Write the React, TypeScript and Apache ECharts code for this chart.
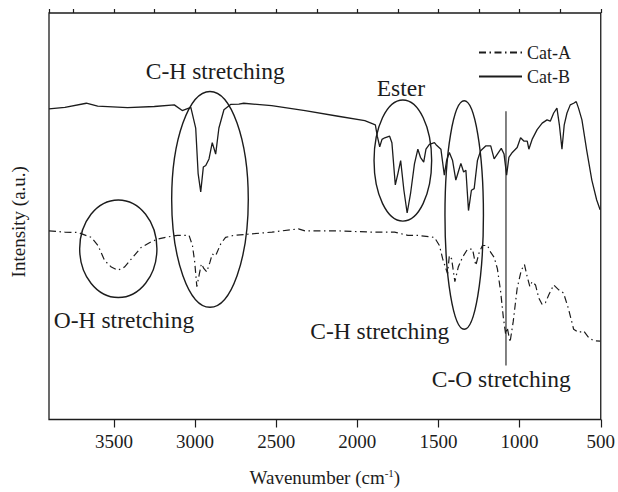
import React, { useEffect, useRef } from "react";
import * as echarts from "echarts";

const catAWavenumber = [3900, 3802, 3721, 3639, 3598, 3557, 3516, 3476, 3435, 3384, 3333, 3271, 3231, 3170, 3108, 3037, 3016, 3002, 2989, 2975, 2961, 2945, 2928, 2908, 2894, 2873, 2842, 2812, 2761, 2700, 2526, 2363, 2322, 2118, 1914, 1771, 1689, 1627, 1525, 1494, 1474, 1454, 1444, 1433, 1419, 1399, 1378, 1352, 1321, 1290, 1270, 1249, 1229, 1198, 1178, 1157, 1137, 1117, 1100, 1086, 1076, 1059, 1039, 1015, 990, 970, 953, 937, 923, 902, 882, 861, 841, 820, 790, 759, 729, 698, 667, 637, 606, 575, 545, 504];
const catAIntensity = [46.4, 46.1, 46.0, 44.8, 42.8, 39.1, 37.5, 36.7, 37.5, 39.9, 42.3, 43.7, 44.4, 44.9, 45.3, 45.3, 42.8, 38.7, 32.7, 35.5, 38.3, 37.1, 36.3, 38.7, 40.7, 40.3, 43.2, 44.8, 45.3, 45.5, 46.1, 46.9, 46.4, 46.4, 46.1, 46.1, 45.3, 45.3, 44.8, 42.8, 39.5, 37.1, 35.9, 40.3, 39.5, 33.9, 37.5, 39.9, 41.9, 41.9, 37.9, 41.1, 42.8, 42.8, 41.1, 39.9, 37.1, 31.5, 25.0, 21.0, 22.6, 19.0, 24.2, 32.3, 36.7, 38.1, 35.1, 32.7, 33.9, 33.1, 29.9, 28.3, 28.7, 30.7, 33.1, 31.9, 31.1, 27.1, 22.2, 21.4, 21.8, 20.2, 19.4, 19.3];

const catBWavenumber = [3900, 3802, 3670, 3600, 3416, 3251, 3128, 3079, 3026, 2996, 2981, 2965, 2949, 2934, 2914, 2894, 2873, 2853, 2822, 2781, 2730, 2700, 2528, 2322, 2118, 1954, 1889, 1877, 1862, 1848, 1831, 1801, 1787, 1766, 1750, 1733, 1713, 1693, 1672, 1648, 1627, 1611, 1591, 1577, 1556, 1525, 1515, 1485, 1464, 1450, 1433, 1413, 1393, 1378, 1362, 1345, 1331, 1315, 1297, 1280, 1260, 1240, 1209, 1178, 1157, 1137, 1113, 1096, 1080, 1066, 1045, 1015, 994, 974, 953, 943, 923, 892, 861, 831, 811, 790, 770, 755, 739, 725, 708, 688, 667, 651, 637, 616, 586, 555, 525, 504];
const catBIntensity = [76.4, 76.8, 77.8, 77.1, 76.7, 77.0, 77.4, 76.0, 76.8, 71.7, 60.5, 56.0, 62.1, 62.5, 64.1, 68.1, 65.3, 71.7, 76.2, 77.5, 77.6, 77.8, 77.2, 76.0, 74.6, 73.5, 72.5, 69.7, 67.1, 68.9, 69.3, 69.7, 68.1, 57.7, 60.5, 63.7, 56.4, 50.8, 55.6, 62.9, 66.5, 64.5, 63.3, 66.5, 67.7, 68.1, 67.6, 66.5, 60.1, 63.7, 65.7, 63.7, 58.9, 60.9, 63.0, 60.9, 61.3, 51.4, 56.4, 56.8, 63.7, 66.1, 67.3, 67.3, 64.1, 65.3, 66.7, 65.3, 60.1, 64.5, 65.7, 66.9, 69.3, 68.5, 68.5, 66.5, 68.9, 71.3, 72.9, 73.7, 73.4, 75.4, 76.6, 72.5, 66.5, 72.5, 75.4, 77.4, 77.8, 78.2, 76.6, 73.7, 66.1, 58.9, 54.0, 51.6];

const xTickLabels = [500, 1000, 1500, 2000, 2500, 3000, 3500];

// C-O marker line (wavenumber, intensity range)
const coLineWavenumber = 1084;
const coLineIntensity = [75.8, 13.3];

// annotation ellipses: [wnLeft, wnRight, intensityTop, intensityBottom]
const ellipses = [
  [3711, 3235, 54.0, 30.0],
  [3144, 2672, 80.7, 27.6],
  [1897, 1542, 78.6, 48.8],
  [1460, 1223, 78.4, 22.2],
];

// annotation labels: [text, wavenumber, intensity]
const labels: [string, number, number][] = [
  ["C-H stretching", 2875, 85.8],
  ["Ester", 1732, 81.6],
  ["O-H stretching", 3438, 24.4],
  ["C-H stretching", 1862, 21.8],
  ["C-O stretching", 1113, 10.0],
];

const FONT = '"Liberation Serif", "Times New Roman", serif';
const INK = "#1c1c1c";

export default function App() {
  const ref = useRef<HTMLDivElement>(null);
  useEffect(() => {
    if (!ref.current) return;
    const chart = echarts.init(ref.current, undefined, { renderer: "svg" });
    const catA = catAWavenumber.map((w, i) => [w, catAIntensity[i]]);
    const catB = catBWavenumber.map((w, i) => [w, catBIntensity[i]]);
    const xBase = {
      type: "value" as const,
      min: 500,
      max: 3900,
      inverse: true,
      splitLine: { show: false },
      axisLine: { show: false },
    };
    chart.setOption({
      animation: false,
      backgroundColor: "#ffffff",
      grid: {
        left: 49,
        right: 14,
        top: 13,
        bottom: 65,
        show: true,
        borderColor: INK,
        borderWidth: 1.3,
        backgroundColor: "transparent",
      },
      legend: {
        data: ["Cat-A", "Cat-B"],
        orient: "vertical",
        left: 473,
        top: 38.5,
        itemWidth: 43,
        itemHeight: 10,
        itemGap: 6,
        itemStyle: { opacity: 0, borderWidth: 0 },
        textStyle: { fontFamily: FONT, fontSize: 18, color: INK, lineHeight: 18 },
      },
      xAxis: [
        {
          ...xBase,
          interval: 500,
          axisTick: { show: true, inside: false, length: 8, lineStyle: { color: INK, width: 1.2 } },
          axisLabel: {
            show: true,
            margin: 12,
            fontFamily: FONT,
            fontSize: 19,
            color: INK,
            showMaxLabel: false,
            formatter: (v: number) => (xTickLabels.includes(v) ? String(v) : ""),
          },
          name: "{a|Wavenumber (cm}{s|-1}{a|)}",
          nameLocation: "middle",
          nameGap: 48,
          nameTextStyle: {
            rich: {
              a: { fontFamily: FONT, fontSize: 19, color: INK },
              s: { fontFamily: FONT, fontSize: 11, color: INK, padding: [0, 0, 9, 0] },
            },
          },
        },
        {
          ...xBase,
          interval: 250,
          axisTick: { show: true, inside: false, length: 4, lineStyle: { color: INK, width: 1.2 } },
          axisLabel: { show: false },
        },
      ],
      yAxis: {
        type: "value",
        min: 0,
        max: 100,
        axisLine: { show: false },
        axisTick: { show: false },
        axisLabel: { show: false },
        splitLine: { show: false },
        name: "Intensity (a.u.)",
        nameLocation: "middle",
        nameRotate: 90,
        nameGap: 21,
        nameTextStyle: { fontFamily: FONT, fontSize: 19, color: INK, padding: [0, 11, 0, 0] },
      },
      series: [
        {
          name: "Cat-A",
          type: "line",
          data: catA,
          symbol: "none",
          lineStyle: { color: INK, width: 1.2, type: [7, 3.5, 1.5, 3.5] },
          itemStyle: { color: INK },
        },
        {
          name: "Cat-B",
          type: "line",
          data: catB,
          symbol: "none",
          lineStyle: { color: INK, width: 1.3, type: "solid" },
          itemStyle: { color: INK },
        },
        {
          name: "C-O marker",
          type: "line",
          data: [
            [coLineWavenumber, coLineIntensity[0]],
            [coLineWavenumber, coLineIntensity[1]],
          ],
          symbol: "none",
          silent: true,
          lineStyle: { color: INK, width: 1.1 },
        },
      ],
    });

    const px = (w: number, v: number) =>
      chart.convertToPixel({ xAxisIndex: 0, yAxisIndex: 0 }, [w, v]) as number[];
    const graphics: any[] = [];
    ellipses.forEach(([wl, wr, vt, vb]) => {
      const a = px(wl, vt);
      const b = px(wr, vb);
      graphics.push({
        type: "ellipse",
        silent: true,
        shape: {
          cx: (a[0] + b[0]) / 2,
          cy: (a[1] + b[1]) / 2,
          rx: Math.abs(b[0] - a[0]) / 2,
          ry: Math.abs(b[1] - a[1]) / 2,
        },
        style: { fill: "none", stroke: INK, lineWidth: 1.4 },
      });
    });
    labels.forEach(([t, w, v]) => {
      const p = px(w, v);
      graphics.push({
        type: "text",
        x: p[0],
        y: p[1],
        silent: true,
        style: {
          text: t,
          fontFamily: FONT,
          fontSize: 23.5,
          fill: INK,
          align: "center",
          verticalAlign: "middle",
        },
      });
    });
    chart.setOption({ graphic: graphics });

    return () => chart.dispose();
  }, []);
  return (
    <div
      ref={ref}
      style={{ position: "absolute", left: 0, top: 0, width: 618, height: 492 }}
    />
  );
}
